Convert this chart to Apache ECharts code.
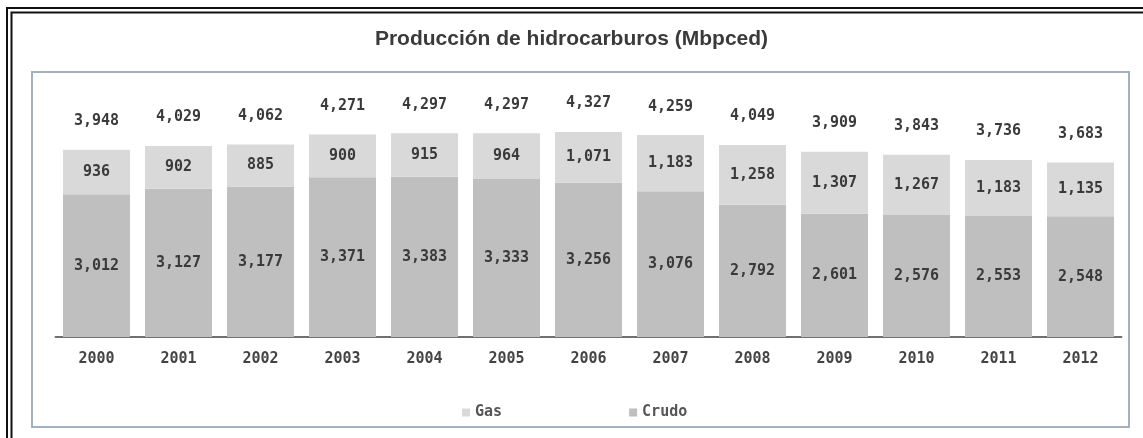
<!DOCTYPE html>
<html>
<head>
<meta charset="utf-8">
<script src="https://cdn.jsdelivr.net/npm/echarts@6/dist/echarts.min.js"></script>
<style>
  html, body { margin: 0; padding: 0; background: #fff; }
  #chart { width: 1143px; height: 438px; }
</style>
</head>
<body>
<div id="chart"></div>
<script>
// datos
const years = ['2000', '2001', '2002', '2003', '2004', '2005', '2006', '2007', '2008', '2009', '2010', '2011', '2012'];
const crudo = [3012, 3127, 3177, 3371, 3383, 3333, 3256, 3076, 2792, 2601, 2576, 2553, 2548];
const gas = [936, 902, 885, 900, 915, 964, 1071, 1183, 1258, 1307, 1267, 1183, 1135];
const totales = [3948, 4029, 4062, 4271, 4297, 4297, 4327, 4259, 4049, 3909, 3843, 3736, 3683];

const fmt = v => v.toLocaleString('en-US');
const numFont = { fontFamily: 'DejaVu Sans Mono', fontWeight: 'bold', fontSize: 15, color: '#3a3a3a' };

const chart = echarts.init(document.getElementById('chart'));

const option = {
  animation: false,
  backgroundColor: '#fff',
  title: {
    text: 'Producción de hidrocarburos (Mbpced)',
    left: 'center',
    top: 24,
    textStyle: { fontFamily: 'Liberation Sans', fontWeight: 'bold', fontSize: 21, color: '#3a3a3a' }
  },
  graphic: [
    // marco doble exterior
    { type: 'rect', silent: true, shape: { x: 7, y: 8, width: 1160, height: 460 },
      style: { fill: 'none', stroke: '#111', lineWidth: 2 } },
    { type: 'rect', silent: true, shape: { x: 11.5, y: 12.5, width: 1160, height: 460 },
      style: { fill: 'none', stroke: '#111', lineWidth: 2 } },
    // recuadro del gráfico
    { type: 'rect', silent: true, z: -1, shape: { x: 32, y: 72, width: 1097, height: 355 },
      style: { fill: '#fff', stroke: '#a3b0c4', lineWidth: 2 } }
  ],
  legend: {
    data: ['Gas', 'Crudo'],
    left: 457,
    top: 400,
    icon: 'rect',
    itemWidth: 8,
    itemHeight: 8,
    itemGap: 127,
    textStyle: { fontFamily: 'DejaVu Sans Mono', fontWeight: 'bold', fontSize: 15, color: '#555' }
  },
  grid: { left: 55.5, right: 21.5, top: 100, bottom: 101 },
  xAxis: {
    type: 'category',
    data: years,
    axisLine: { lineStyle: { color: '#707070', width: 2 } },
    axisTick: { show: false },
    axisLabel: { margin: 15, fontFamily: 'DejaVu Sans Mono', fontWeight: 'bold', fontSize: 15, color: '#444' }
  },
  yAxis: { type: 'value', min: 0, max: 5000, show: false, splitLine: { show: false } },
  series: [
    {
      name: 'Crudo', type: 'bar', stack: 'total', data: crudo, barWidth: 67,
      itemStyle: { color: '#bfbfbf' },
      label: { show: true, position: 'inside', formatter: p => fmt(p.value), ...numFont }
    },
    {
      name: 'Gas', type: 'bar', stack: 'total', data: gas, barWidth: 67,
      itemStyle: { color: '#d9d9d9' },
      label: { show: true, position: 'inside', formatter: p => fmt(p.value), ...numFont }
    },
    {
      name: 'Total', type: 'bar', stack: 'total', data: years.map(() => 0), barWidth: 67,
      itemStyle: { color: 'transparent' },
      label: { show: true, position: 'top', distance: 21, formatter: p => fmt(totales[p.dataIndex]), ...numFont }
    }
  ]
};

chart.setOption(option);
</script>
</body>
</html>
